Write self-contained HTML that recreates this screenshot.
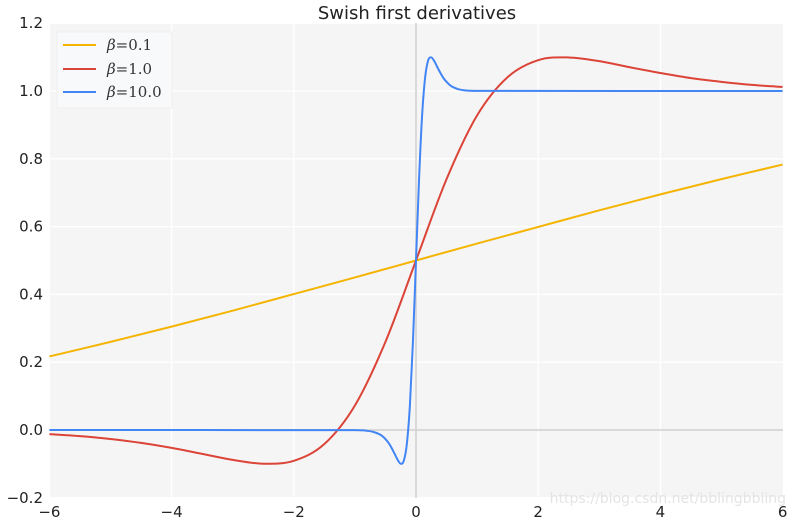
<!DOCTYPE html>
<html><head><meta charset="utf-8"><style>
body{margin:0;background:#fff;width:794px;height:519px;overflow:hidden}
svg text{font-family:"DejaVu Sans","Liberation Sans",sans-serif}
</style></head><body>
<svg id="chart" width="794" height="519" xmlns="http://www.w3.org/2000/svg">
<rect x="50" y="23" width="733" height="475" fill="#f5f5f6"/>
<g id="grid"></g>
<g id="series"></g>
<g id="ticks"></g>
<text x="417" y="19" text-anchor="middle" font-size="18" fill="#222">Swish first derivatives</text>
<g>
<rect x="57" y="32" width="115" height="76" fill="#f8f9fa" stroke="#f0f0f0"/>
<line x1="63" y1="45" x2="96" y2="45" stroke="#f4b400" stroke-width="2"/>
<text x="107" y="50" font-size="15" fill="#333" style="font-family:'DejaVu Serif','Liberation Serif',serif"><tspan font-style="italic">β</tspan>=0.1</text>
<line x1="63" y1="69" x2="96" y2="69" stroke="#db4437" stroke-width="2"/>
<text x="107" y="74" font-size="15" fill="#333" style="font-family:'DejaVu Serif','Liberation Serif',serif"><tspan font-style="italic">β</tspan>=1.0</text>
<line x1="63" y1="92" x2="96" y2="92" stroke="#4285f4" stroke-width="2"/>
<text x="107" y="97" font-size="15" fill="#333" style="font-family:'DejaVu Serif','Liberation Serif',serif"><tspan font-style="italic">β</tspan>=10.0</text>
</g>
<text x="786" y="503" text-anchor="end" font-size="14" fill="#e4e4e4">https://blog.csdn.net/bblingbbling</text>
</svg>
<script>
const xTicks=[-6,-4,-2,0,2,4,6];
const yTicks=[-0.2,0,0.2,0.4,0.6,0.8,1.0,1.2];
const xB01=[-6,-5,-4,-3,-2,-1,0,1,2,3,4,5,6];
const yB01=[0.217,0.260,0.305,0.352,0.401,0.450,0.5,0.550,0.599,0.648,0.695,0.740,0.783];
const xB1=[-6,-5.5,-5,-4.5,-4,-3.5,-3,-2.5,-2,-1.5,-1,-0.5,0,0.5,1,1.5,2,2.5,3,3.5,4,4.5,5,5.5,6];
const yB1=[-0.0123,-0.0182,-0.0266,-0.0379,-0.0527,-0.0703,-0.0881,-0.0994,-0.0908,-0.0413,0.0723,0.260,0.5,0.740,0.928,1.041,1.091,1.099,1.088,1.070,1.053,1.038,1.027,1.018,1.012];
const xB10=[-6,-1,-0.8,-0.7,-0.6,-0.55,-0.5,-0.45,-0.4,-0.35,-0.3,-0.25,-0.2,-0.15,-0.1,-0.05,0,0.05,0.1,0.15,0.2,0.25,0.3,0.35,0.4,0.45,0.5,0.55,0.6,0.7,0.8,1,6];
const yB10=[0,-0.0004,-0.0024,-0.0055,-0.0123,-0.0182,-0.0266,-0.0379,-0.0527,-0.0703,-0.0881,-0.0994,-0.0908,-0.0413,0.0723,0.260,0.5,0.740,0.928,1.041,1.091,1.099,1.088,1.070,1.053,1.038,1.027,1.018,1.012,1.005,1.002,1.0004,1.0];
const NS="http://www.w3.org/2000/svg";
const X=v=>416+v*61.1, Y=v=>430-v*339;
function mk(tag,attrs,parent){const e=document.createElementNS(NS,tag);for(const k in attrs)e.setAttribute(k,attrs[k]);parent.appendChild(e);return e;}
const grid=document.getElementById('grid'),ticks=document.getElementById('ticks'),ser=document.getElementById('series');
xTicks.forEach(t=>{
 if(t!==0&&Math.abs(t)!==6){const l=mk('line',{x1:X(t),x2:X(t),y1:23,y2:498,stroke:'#fff','stroke-width':1.3},grid);
 
 }
 const tx=mk('text',{x:X(t),y:517,'text-anchor':'middle','font-size':15,fill:'#222'},ticks);
 tx.textContent=(t<0?'\u2212':'')+Math.abs(t);
 
 
});
yTicks.forEach(t=>{
 if(t!==0){const l=mk('line',{x1:50,x2:783,y1:Y(t),y2:Y(t),stroke:'#fff','stroke-width':1.3},grid);
 
 }
 const tx=mk('text',{x:43,y:Y(t)+5,'text-anchor':'end','font-size':15,fill:'#222'},ticks);
 tx.textContent=(t<0?'\u2212':'')+Math.abs(t).toFixed(1);
 
 
});
const ax=mk('line',{x1:X(0),x2:X(0),y1:23,y2:498,stroke:'#d0d0d0','stroke-width':1.5},grid);


const ay=mk('line',{x1:50,x2:783,y1:Y(0),y2:Y(0),stroke:'#d0d0d0','stroke-width':1.5},grid);


function path(xs,ys){const p=xs.map((x,i)=>[X(x),Y(ys[i])]);let d='M'+p[0][0]+','+p[0][1];
 for(let i=0;i<p.length-1;i++){const p0=p[i-1]||p[i],p1=p[i],p2=p[i+1],p3=p[i+2]||p2;
  const c1=[p1[0]+(p2[0]-p0[0])/6,p1[1]+(p2[1]-p0[1])/6],c2=[p2[0]-(p3[0]-p1[0])/6,p2[1]-(p3[1]-p1[1])/6];
  c1[0]=Math.min(Math.max(c1[0],p1[0]),p2[0]);c2[0]=Math.min(Math.max(c2[0],p1[0]),p2[0]);
  d+=`C${c1[0]},${c1[1]} ${c2[0]},${c2[1]} ${p2[0]},${p2[1]}`;}
 return d;}
[[xB01,yB01,'#f4b400','line-beta-0.1'],[xB1,yB1,'#db4437','line-beta-1.0'],[xB10,yB10,'#4285f4','line-beta-10.0']].forEach(s=>{
 const e=mk('path',{d:path(s[0],s[1]),fill:'none',stroke:s[2],'stroke-width':2},ser);
 
 
});
</script>
</body></html>
